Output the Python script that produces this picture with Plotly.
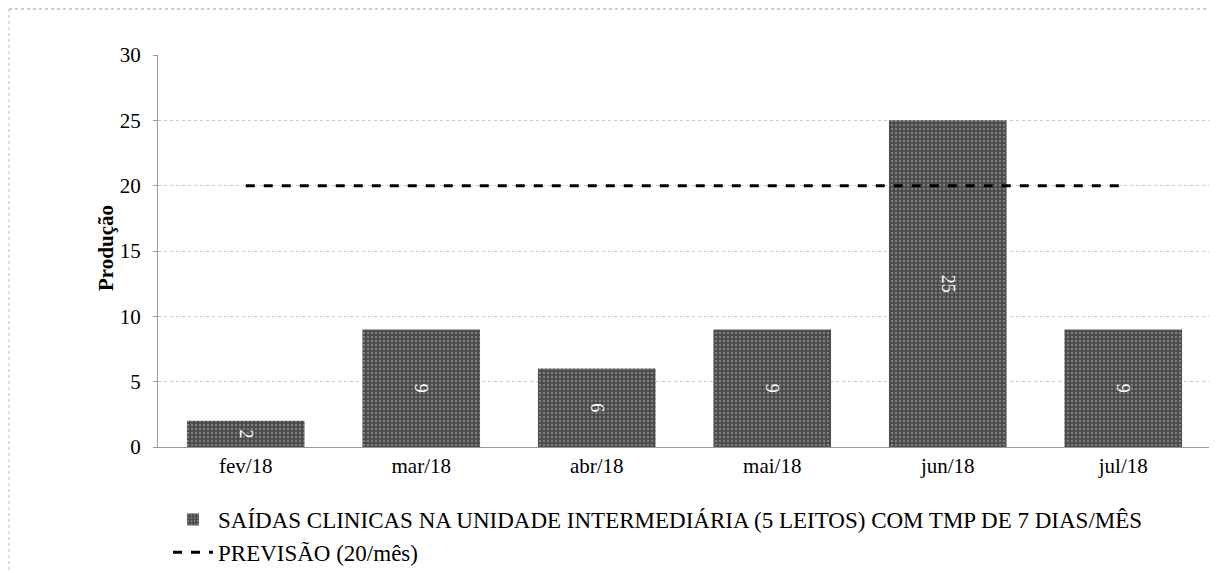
import plotly.graph_objects as go

months = ["fev/18", "mar/18", "abr/18", "mai/18", "jun/18", "jul/18"]
saidas = [2, 9, 6, 9, 25, 9]
previsao = [20, 20, 20, 20, 20, 20]
y_ticks = [0, 5, 10, 15, 20, 25, 30]

serif = "Liberation Serif, Times New Roman, serif"

OFF = 8  # browser body margin
W, H = 1217 - OFF, 573 - OFF
L, R, T, B = 158 - OFF, 14 - OFF, 55 - OFF, 126
pw, ph = W - L - R, H - T - B

def px(x):
    return (x - OFF - L) / pw

def py(y):
    return (T + ph - (y - OFF)) / ph

fig = go.Figure()
fig.add_trace(go.Bar(
    x=months, y=saidas,
    name="SAÍDAS CLINICAS NA UNIDADE INTERMEDIÁRIA (5 LEITOS) COM TMP DE 7 DIAS/MÊS",
    marker=dict(color="#4a4a4a", line=dict(width=0),
                pattern=dict(shape=".", fgcolor="#b0b0b0", size=4, solidity=0.3)),
    width=0.67,
    text=[str(v) for v in saidas], textposition="inside", insidetextanchor="middle",
    textangle=90, textfont=dict(color="white", size=18, family=serif),
))
fig.add_trace(go.Scatter(
    x=months, y=previsao, mode="lines",
    name="PREVISÃO (20/mês)",
    line=dict(color="black", width=3, dash="dash"),
))

fig.update_layout(
    width=W, height=H,
    margin=dict(l=L, r=R, t=T, b=B, autoexpand=False),
    paper_bgcolor="white", plot_bgcolor="white",
    font=dict(family=serif, color="black", size=21),
    showlegend=True,
    legend=dict(x=px(168), y=py(498), xanchor="left", yanchor="top",
                font=dict(size=23, family=serif), tracegroupgap=0,
                bgcolor="rgba(0,0,0,0)", itemwidth=40),
    bargap=0.33,
    shapes=[
        dict(type="line", xref="paper", yref="paper", x0=px(9), x1=px(1212), y0=py(9), y1=py(9),
             line=dict(color="#999", width=1, dash="dot")),
        dict(type="line", xref="paper", yref="paper", x0=px(9), x1=px(9), y0=py(9), y1=py(573),
             line=dict(color="#bbb", width=1, dash="dot")),
    ],
    annotations=[
        dict(text="<b>Produção</b>", xref="paper", yref="paper", x=px(92), y=py(248),
             showarrow=False, textangle=-90, font=dict(size=21, family=serif)),
    ],
)
fig.update_yaxes(
    range=[0, 30], tickvals=y_ticks, showgrid=True, gridcolor="#c8c8c8", griddash="dot",
    showline=True, linecolor="#999", linewidth=1, ticks="outside", ticklen=4, tickcolor="#999",
    ticklabelstandoff=8, tickfont=dict(size=21), zeroline=False,
)
fig.update_xaxes(
    showline=True, linecolor="#999", linewidth=1, ticks="", tickfont=dict(size=21),
    range=[-0.5, 5.5],
)

fig.write_html("out.html")
